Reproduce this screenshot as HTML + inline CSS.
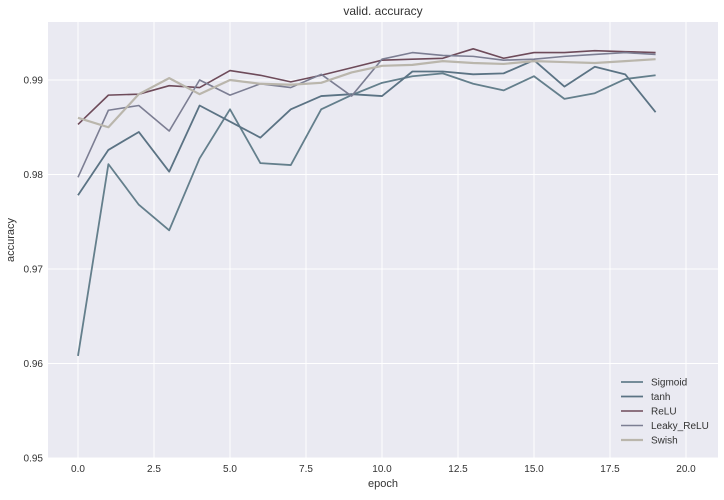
<!DOCTYPE html>
<html><head><meta charset="utf-8"><style>
body{margin:0;background:#fff;font-family:"Liberation Sans",sans-serif;}
svg text{font-family:"Liberation Sans",sans-serif;fill:#333;}
</style></head><body>
<svg id="c" width="724" height="495" xmlns="http://www.w3.org/2000/svg">
<rect x="48" y="22" width="670" height="436" fill="#eaeaf2"/>
<text x="383" y="15" text-anchor="middle" font-size="12">valid. accuracy</text>
<text x="383" y="487" text-anchor="middle" font-size="11">epoch</text>
<text x="14" y="240" text-anchor="middle" font-size="11" transform="rotate(-90 14 240)">accuracy</text>
<g id="grid"></g><g id="lines"></g><g id="legend"></g>
</svg>
<script>
const epochs=[0,1,2,3,4,5,6,7,8,9,10,11,12,13,14,15,16,17,18,19];
const sigmoid=[0.9608,0.9811,0.9768,0.9741,0.9817,0.9869,0.9812,0.9810,0.9869,0.9884,0.9897,0.9904,0.9907,0.9896,0.9889,0.9904,0.9880,0.9886,0.9901,0.9905];
const tanh=[0.9778,0.9826,0.9845,0.9803,0.9873,0.9856,0.9839,0.9869,0.9883,0.9885,0.9883,0.9909,0.9909,0.9906,0.9907,0.9921,0.9893,0.9914,0.9906,0.9866];
const relu=[0.9853,0.9884,0.9885,0.9894,0.9892,0.9910,0.9905,0.9898,0.9905,0.9913,0.9921,0.9922,0.9923,0.9933,0.9923,0.9929,0.9929,0.9931,0.9930,0.9929];
const leaky=[0.9797,0.9868,0.9873,0.9846,0.9900,0.9884,0.9896,0.9892,0.9906,0.9883,0.9922,0.9929,0.9926,0.9925,0.9921,0.9922,0.9925,0.9927,0.9929,0.9927];
const swish=[0.9860,0.9850,0.9885,0.9902,0.9885,0.9900,0.9896,0.9895,0.9897,0.9908,0.9915,0.9916,0.9920,0.9918,0.9917,0.9920,0.9919,0.9918,0.9920,0.9922];
const xTicks=[0,2.5,5,7.5,10,12.5,15,17.5,20];
const xTickLabels=["0.0","2.5","5.0","7.5","10.0","12.5","15.0","17.5","20.0"];
const yTicks=[0.95,0.96,0.97,0.98,0.99];
const yTickLabels=["0.95","0.96","0.97","0.98","0.99"];
const seriesNames=["Sigmoid","tanh","ReLU","Leaky_ReLU","Swish"];
const NS="http://www.w3.org/2000/svg";
const X=v=>78+v*30.4;
const Y=v=>458-(v-0.95)*9450;
function mk(tag,attrs,parent){const e=document.createElementNS(NS,tag);for(const k in attrs)e.setAttribute(k,attrs[k]);parent.appendChild(e);return e;}
const g=document.getElementById('grid');
xTicks.forEach((t,i)=>{
  const l=mk('line',{x1:X(t),x2:X(t),y1:22,y2:458,stroke:'#fff','stroke-width':1},g);
  
  
  const tx=mk('text',{x:X(t),y:472,'text-anchor':'middle','font-size':10},g);
  tx.textContent=xTickLabels[i];
  
  
});
yTicks.forEach((t,i)=>{
  const l=mk('line',{x1:48,x2:718,y1:Y(t),y2:Y(t),stroke:'#fff','stroke-width':1},g);
  
  
  const tx=mk('text',{x:43,y:Y(t)+3.5,'text-anchor':'end','font-size':10},g);
  tx.textContent=yTickLabels[i];
  
  
});
const series=[sigmoid,tanh,relu,leaky,swish];
const colors=['#647f8c','#5b7384','#6e4b5a','#7c7e93','#bab6ac'];
const widths=[1.8,1.8,1.6,1.6,2.2];
const lg=document.getElementById('lines');
series.forEach((s,i)=>{
  const p=mk('polyline',{points:s.map((v,j)=>X(epochs[j])+','+Y(v)).join(' '),fill:'none',stroke:colors[i],'stroke-width':widths[i],'stroke-linejoin':'round'},lg);
  
  
});
const leg=document.getElementById('legend');
seriesNames.forEach((n,i)=>{
  const y=382+i*14.5;
  const l=mk('line',{x1:621,x2:643,y1:y,y2:y,stroke:colors[i],'stroke-width':widths[i]},leg);
  
  
  const t=mk('text',{x:651,y:y+3.5,'font-size':10},leg);
  t.textContent=n;
  
  
});
</script>
</body></html>
